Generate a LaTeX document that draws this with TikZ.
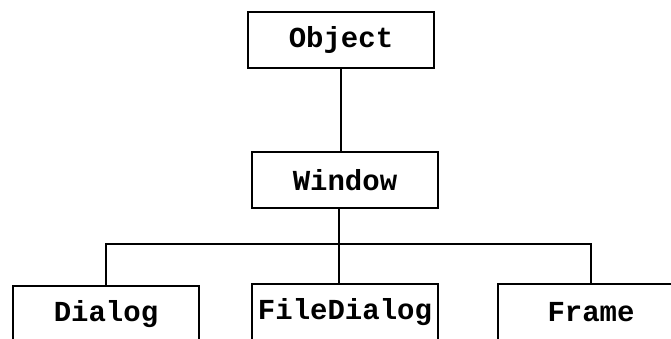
\documentclass[tikz,border=0pt]{standalone}
\usepackage{fontspec}
\newfontfamily\lblfont{Liberation Mono}
\begin{document}
\begin{tikzpicture}[x=1pt,y=-1pt,
  box/.style={draw, line width=2pt, minimum width=186pt, minimum height=56pt, inner sep=0pt,
    font=\lblfont\bfseries\fontsize{29}{30}\selectfont},
  link/.style={line width=2pt}]
\useasboundingbox (0,0) rectangle (671,339);
\clip (0,0) rectangle (671,339);
\node[box] (obj) at (341,40) {Object};
\node[box] (win) at (345,180) {Window};
\node[box] (dlg) at (106,314) {Dialog};
\node[box] (fd) at (345,312) {FileDialog};
\node[box] (frm) at (591,312) {Frame};
\coordinate (bus) at (339,244);
\draw[link] (obj.south) -- (obj.south |- win.north);
\draw[link] (win.south -| bus) -- (bus) -- (fd.north -| bus);
\draw[link] (dlg.north) |- (bus) -| (frm.north);
\end{tikzpicture}
\end{document}
